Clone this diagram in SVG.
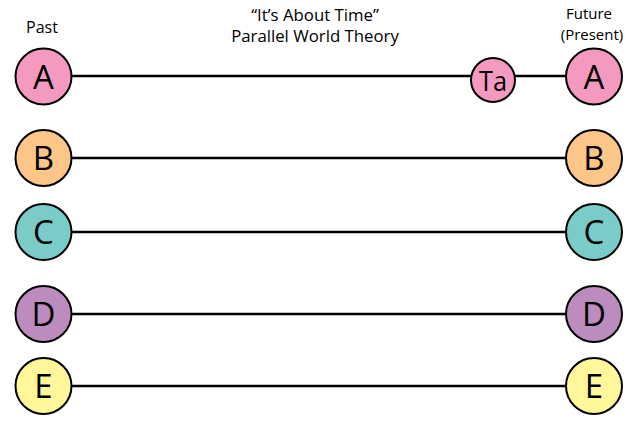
<svg xmlns="http://www.w3.org/2000/svg" width="640" height="427" viewBox="0 0 640 427">
<style>
.n{stroke:#000;stroke-width:2}
.l{font-family:"Open Sans","Liberation Sans",sans-serif;font-size:33px;text-anchor:middle;fill:#000}
.t{font-family:"Open Sans","Liberation Sans",sans-serif;font-size:16px;text-anchor:middle;fill:#000}
.c{stroke:#000;stroke-width:2.5;fill:none}
</style>
<rect width="640" height="427" fill="#fff"/>
<g id="labels">
<text class="t" x="42" y="33">Past</text>
<text class="t" x="315" y="21" style="font-size:16.8px">“It’s About Time”</text>
<text class="t" x="315" y="42" style="font-size:16.8px">Parallel World Theory</text>
<text class="t" x="589" y="19" style="font-size:15px">Future</text>
<text class="t" x="592" y="39.5" style="font-size:15px">(Present)</text>
</g>
<g id="connectors">
<line class="c" x1="72" y1="76" x2="471" y2="76"/>
<line class="c" x1="515" y1="76" x2="566" y2="76"/>
<line class="c" x1="72" y1="158" x2="566" y2="158"/>
<line class="c" x1="72" y1="232" x2="566" y2="232"/>
<line class="c" x1="72" y1="314" x2="566" y2="314"/>
<line class="c" x1="72" y1="386" x2="566" y2="386"/>
</g>
<g id="A-past"><circle class="n" cx="43.5" cy="76.5" r="28" fill="#F49AC1"/><text class="l" x="43.5" y="88.5">A</text></g>
<g id="B-past"><circle class="n" cx="43.5" cy="158" r="28" fill="#FDC689"/><text class="l" x="43.5" y="170">B</text></g>
<g id="C-past"><circle class="n" cx="43.5" cy="232" r="28" fill="#7ACCC8"/><text class="l" x="43.5" y="244">C</text></g>
<g id="D-past"><circle class="n" cx="43.5" cy="314" r="28" fill="#BD8CBF"/><text class="l" x="43.5" y="326">D</text></g>
<g id="E-past"><circle class="n" cx="43.5" cy="386" r="28" fill="#FFF799"/><text class="l" x="43.5" y="398">E</text></g>
<g id="Ta"><circle class="n" cx="493" cy="80" r="22" fill="#F49AC1"/><text class="l" x="493" y="91" style="font-size:28px" textLength="28" lengthAdjust="spacingAndGlyphs">Ta</text></g>
<g id="A-future"><circle class="n" cx="594" cy="76.5" r="28" fill="#F49AC1"/><text class="l" x="594" y="88.5">A</text></g>
<g id="B-future"><circle class="n" cx="594" cy="158" r="28" fill="#FDC689"/><text class="l" x="594" y="170">B</text></g>
<g id="C-future"><circle class="n" cx="594" cy="232" r="28" fill="#7ACCC8"/><text class="l" x="594" y="244">C</text></g>
<g id="D-future"><circle class="n" cx="594" cy="314" r="28" fill="#BD8CBF"/><text class="l" x="594" y="326">D</text></g>
<g id="E-future"><circle class="n" cx="594" cy="386" r="28" fill="#FFF799"/><text class="l" x="594" y="398">E</text></g>
</svg>
